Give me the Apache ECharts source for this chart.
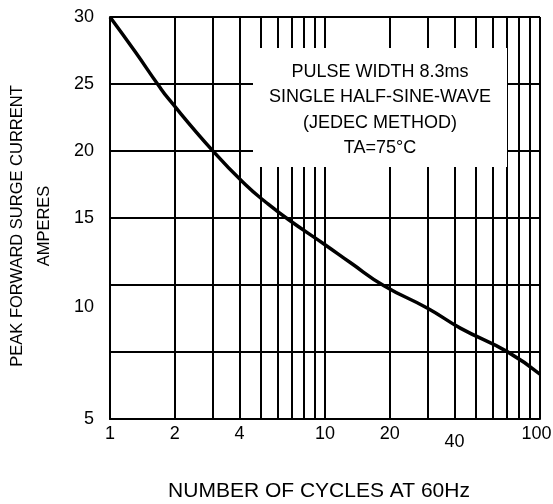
<!DOCTYPE html>
<html><head><meta charset="utf-8">
<script src="https://cdn.jsdelivr.net/npm/echarts@6/dist/echarts.min.js"></script>
<style>html,body{margin:0;padding:0;background:#fff}#c{width:553px;height:504px}</style>
</head><body><div id="c"></div>
<script>
// ---- data ----
const cycles  = [1, 1.31, 1.68, 1.87, 3.03, 4.26, 5.38, 6.78, 10, 13.1, 18.8, 30, 42.8, 70.7, 100];
const amperes = [30, 27.4, 24.9, 23.9, 19.95, 17.5, 16.1, 14.9, 13.5, 12.5, 11.2, 9.95, 9.05, 8.0, 7.0];
const xTickLabels = [1, 2, 4, 10, 20, 40, 100];
const xMinorGrid = [2, 3, 4, 5, 6, 7, 8, 9, 20, 30, 40, 50, 60, 70, 80, 90];
const yTickLabels = [5, 10, 15, 20, 25, 30];
const noteLines = ['PULSE WIDTH 8.3ms', 'SINGLE HALF-SINE-WAVE', '(JEDEC METHOD)', 'TA=75°C'];
const xName = 'NUMBER OF CYCLES AT 60Hz';
const yName = 'PEAK FORWARD SURGE CURRENT\nAMPERES';

// the original's ampere scale is non-uniform: ampere anchors -> grid units
const yScaleAmp  = [5, 10, 15, 20, 25, 30];
const yScaleUnit = [0, 1.67, 3, 4, 5, 6];
function interp(v, xs, ys) {
  for (let i = 0; i < xs.length - 1; i++) {
    if (v <= xs[i + 1] || i === xs.length - 2) {
      const t = (v - xs[i]) / (xs[i + 1] - xs[i]);
      return ys[i] + t * (ys[i + 1] - ys[i]);
    }
  }
}
const toUnit = a => interp(a, yScaleAmp, yScaleUnit);
const fromUnit = u => interp(u, yScaleUnit, yScaleAmp);

const FONT = 'Liberation Sans, Arial, sans-serif';
const chart = echarts.init(document.getElementById('c'), null, {renderer: 'canvas'});
chart.setOption({
  animation: false,
  backgroundColor: '#fff',
  grid: {left: 110, right: 13, top: 17, bottom: 85, containLabel: false, outerBoundsMode: 'none'},
  xAxis: {
    type: 'log', logBase: 10, min: 1, max: 100,
    name: xName, nameLocation: 'middle', nameGap: 62,
    nameTextStyle: {fontFamily: FONT, fontSize: 21, color: '#000', padding: [0, 12, 0, 0]},
    axisLine: {show: true, lineStyle: {color: '#000', width: 2}},
    axisTick: {show: false},
    splitLine: {show: true, lineStyle: {color: '#000', width: 2}},
    axisLabel: {
      customValues: xTickLabels, margin: 6,
      fontFamily: FONT, fontSize: 18, color: '#000',
      formatter: v => {
        const r = Math.round(v);
        if (r === 40) return '{lo|40}';
        if (r === 100) return '{hi|100}';
        return String(r);
      },
      rich: {
        lo: {fontFamily: FONT, fontSize: 18, color: '#000', padding: [8, 0, 0, 0]},
        hi: {fontFamily: FONT, fontSize: 18, color: '#000', padding: [0, 7, 0, 0]}
      }
    }
  },
  yAxis: {
    type: 'value', min: 0, max: 6, interval: 1,
    name: yName, nameLocation: 'middle', nameGap: 52, nameRotate: 90,
    nameTextStyle: {fontFamily: FONT, fontSize: 16.5, color: '#000', lineHeight: 27, align: 'center', padding: [0, 16, 0, 0]},
    axisLine: {show: true, lineStyle: {color: '#000', width: 2}},
    axisTick: {show: false},
    splitLine: {show: true, lineStyle: {color: '#000', width: 2}},
    axisLabel: {
      customValues: yTickLabels.map(toUnit), margin: 16,
      fontFamily: FONT, fontSize: 18, color: '#000',
      formatter: v => String(Math.round(fromUnit(v)))
    }
  },
  series: [{
    type: 'line',
    data: cycles.map((c, i) => [c, toUnit(amperes[i])]),
    smooth: 0.5, symbol: 'none', z: 5,
    lineStyle: {color: '#000', width: 3.5},
    markLine: {
      silent: true, symbol: 'none', label: {show: false},
      lineStyle: {color: '#000', width: 2, type: 'solid'},
      emphasis: {disabled: true},
      data: xMinorGrid.map(v => ({xAxis: v}))
    }
  }],
  graphic: [
    {type: 'rect', z: 100, shape: {x: 253, y: 48, width: 254, height: 119}, style: {fill: '#fff'}}
  ].concat(noteLines.map((t, i) => ({
    type: 'text', z: 101, x: 380, y: 72 + i * 25.5,
    style: {text: t, fontFamily: FONT, fontSize: 18, fill: '#000', align: 'center', verticalAlign: 'middle'}
  })))
});
</script></body></html>
